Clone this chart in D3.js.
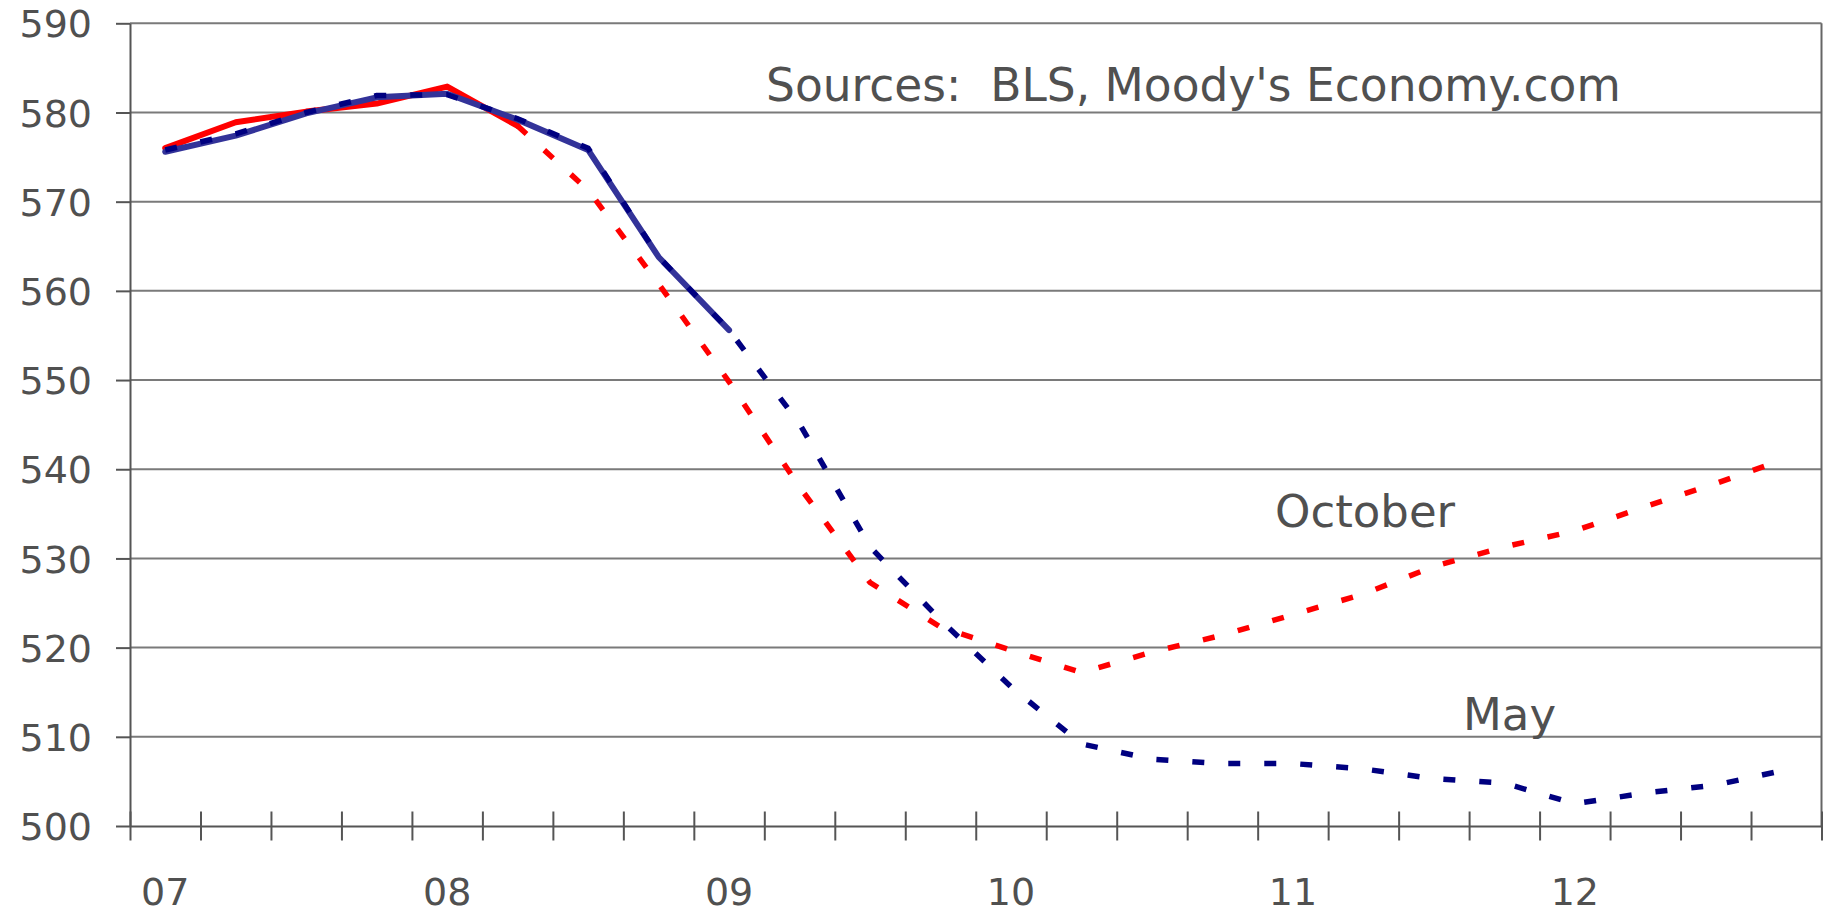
<!DOCTYPE html>
<html>
<head>
<meta charset="utf-8">
<script src="https://d3js.org/d3.v7.min.js"></script>
<style>
  body { margin: 0; background: #fff; }
  svg { display: block; }
  .axis text { font-family: "DejaVu Sans", Verdana, sans-serif; font-size: 38px; fill: #505050; }
  .axis path, .axis line { stroke: #555; stroke-width: 2; }
  .grid line { stroke: #7a7a7a; stroke-width: 2; }
  .note { font-family: "DejaVu Sans", Verdana, sans-serif; font-size: 45px; fill: #505050; white-space: pre; }
</style>
</head>
<body>
<svg id="chart" width="1824" height="910"></svg>
<script>
// quarters 2007Q1 .. 2012Q4
var quarters = ["07Q1","07Q2","07Q3","07Q4","08Q1","08Q2","08Q3","08Q4",
                "09Q1","09Q2","09Q3","09Q4","10Q1","10Q2","10Q3","10Q4",
                "11Q1","11Q2","11Q3","11Q4","12Q1","12Q2","12Q3","12Q4"];
var yearLabels = ["07","08","09","10","11","12"];
var yTicks = [500, 510, 520, 530, 540, 550, 560, 570, 580, 590];

// history (solid) and forecast (dashed)
var mayActual = [575.6, 577.4, 579.9, 581.7, 582.1, 579.2, 575.8, 563.8, 555.6];
var mayForecast = [575.8, 577.6, 580.0, 581.9, 582.0, 579.3, 576.0, 563.8, 555.6,
                   545.1, 531.3, 523.1, 515.6, 509.2, 507.5, 507.0, 507.0, 506.4,
                   505.3, 504.8, 502.5, 503.7, 504.6, 506.3];
var octActual = [576.0, 578.9, 580.1, 581.0, 582.9, 578.5];
var octForecast = [null, null, null, null, null, 578.5, 571.3, 560.8, 549.8,
                   538.0, 527.3, 522.3, 519.7, 517.2, 519.5, 521.4, 523.7, 526.0,
                   529.1, 531.3, 533.1, 535.8, 538.4, 541.2];

var plotLeft = 130, plotRight = 1821.5, plotTop = 23.3, plotBottom = 826;

var svg = d3.select("#chart");

var x = d3.scaleBand().domain(quarters).range([plotLeft, plotRight]).padding(0);
var xEdge = d3.scaleLinear().domain([0, quarters.length]).range([plotLeft, plotRight]);
var y = d3.scaleLinear().domain([500, 590]).range([plotBottom, plotTop]);

var cx = function(i) { return x(quarters[i]) + x.bandwidth() / 2; };

// horizontal grid
svg.append("g").attr("class", "grid")
  .selectAll("line")
  .data(yTicks.filter(function(d) { return d > 500; }))
  .join("line")
  .attr("x1", plotLeft).attr("x2", plotRight)
  .attr("y1", function(d) { return y(d); })
  .attr("y2", function(d) { return y(d); });

// right border
svg.append("line")
  .attr("x1", plotRight).attr("x2", plotRight)
  .attr("y1", plotTop).attr("y2", plotBottom)
  .attr("stroke", "#666").attr("stroke-width", 2);

// y axis
var yAxis = svg.append("g").attr("class", "axis")
  .attr("transform", "translate(" + plotLeft + ",0)")
  .call(d3.axisLeft(y).tickValues(yTicks).tickSize(14).tickSizeOuter(0).tickPadding(24));
yAxis.selectAll("text").attr("dy", "0.36em");

// x axis: ticks on quarter boundaries, crossing the line
var xAxis = svg.append("g").attr("class", "axis")
  .attr("transform", "translate(0," + plotBottom + ")")
  .call(d3.axisBottom(xEdge).tickValues(d3.range(quarters.length + 1)).tickSizeOuter(0).tickFormat(""));
xAxis.selectAll(".tick line").attr("y1", -14.5).attr("y2", 14.5);

svg.append("g").attr("class", "axis")
  .selectAll("text")
  .data(yearLabels)
  .join("text")
  .attr("x", function(d, i) { return cx(i * 4); })
  .attr("y", 905)
  .attr("text-anchor", "middle")
  .text(function(d) { return d; });

// series
var line = d3.line()
  .defined(function(d) { return d != null; })
  .x(function(d, i) { return cx(i); })
  .y(function(d) { return y(d); });

svg.append("path").datum(octActual)
  .attr("d", line).attr("fill", "none")
  .attr("stroke", "#ff0000").attr("stroke-width", 6)
  .attr("stroke-linejoin", "round").attr("stroke-linecap", "round");

svg.append("path").datum(mayActual)
  .attr("d", line).attr("fill", "none")
  .attr("stroke", "#333399").attr("stroke-width", 6)
  .attr("stroke-linejoin", "round").attr("stroke-linecap", "round");

svg.append("path").datum(mayForecast)
  .attr("d", line).attr("fill", "none")
  .attr("stroke", "#000080").attr("stroke-width", 5.5)
  .attr("stroke-dasharray", "12,24");

svg.append("path").datum(octForecast)
  .attr("d", line).attr("fill", "none")
  .attr("stroke", "#ff0000").attr("stroke-width", 5.5)
  .attr("stroke-dasharray", "12,24");

// notes
svg.append("text").attr("class", "note")
  .attr("x", 766).attr("y", 101)
  .style("font-size", "45.5px")
  .text("Sources:  BLS, Moody's Economy.com");
svg.append("text").attr("class", "note")
  .attr("x", 1275).attr("y", 527)
  .text("October");
svg.append("text").attr("class", "note")
  .attr("x", 1463).attr("y", 730)
  .text("May");
</script>
</body>
</html>
